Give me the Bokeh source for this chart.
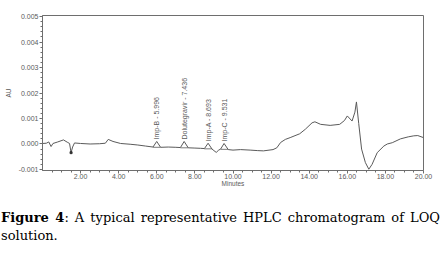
import math
from bokeh.plotting import figure
from bokeh.models import Range1d, FixedTicker, PrintfTickFormatter, Div, ColumnDataSource
from bokeh.layouts import column
from bokeh.core.properties import value
from bokeh.embed import file_html
from bokeh.resources import INLINE

# Chromatogram trace (minutes, AU)
time_min = [0.0, 0.2, 0.33, 0.45, 0.55, 0.8, 1.1, 1.3, 1.42, 1.5, 1.58, 1.68, 2.0, 2.5, 3.0, 3.3,
            3.45, 3.7, 4.1, 4.6, 5.0, 5.4, 5.8, 5.996, 6.2, 6.6, 7.0, 7.24, 7.436, 7.65, 8.0,
            8.3, 8.5, 8.693, 8.9, 9.0, 9.12, 9.25, 9.35, 9.531, 9.75, 10.0, 10.4, 10.9, 11.3,
            11.6, 12.1, 12.3, 12.5, 12.75, 13.0, 13.5, 13.8, 14.15, 14.3, 14.6, 15.1, 15.6,
            15.85, 16.0, 16.25, 16.4, 16.48, 16.6, 16.75, 16.95, 17.13, 17.3, 17.57, 17.92,
            18.1, 18.36, 18.79, 19.2, 19.49, 19.7, 20.0]
absorbance = [0.00002, 0.00003, 0.00008, -0.0001, 0.00002, 0.00008, 0.00016, 0.00007, 0.00002,
              -0.00034, -0.00012, 0.00004, 0.00002, 0.0, 0.00001, 0.00003, 0.00018, 0.0001,
              0.00002, -0.00001, -0.00004, -0.00008, -0.00012, 0.0001, -0.00013, -0.00012,
              -0.00013, -0.00014, 0.0001, -0.00015, -0.00016, -0.00017, -0.00018, 0.00003,
              -0.0002, -0.00026, -0.00033, -0.00024, -0.0002, 0.00002, -0.00022, -0.00024,
              -0.00022, -0.00024, -0.00026, -0.00027, -0.00022, -0.00015, 0.00006, 0.00018,
              0.00025, 0.0004, 0.00058, 0.00083, 0.00087, 0.00077, 0.00073, 0.00077, 0.00092,
              0.0011, 0.0009, 0.00125, 0.00165, 0.0008, -0.0002, -0.00073, -0.00099, -0.0008,
              -0.00034, -0.00008, 0.0, 0.00005, 0.0002, 0.00028, 0.00032, 0.00033, 0.00025]

# Integrated peaks
peak_names = ["Imp-B", "Dolutegravir", "Imp-A", "Imp-C"]
peak_rt = [5.996, 7.436, 8.693, 9.531]
peak_top = [0.0001, 0.0001, 0.00003, 0.00002]
peak_start = [5.8, 7.24, 8.5, 9.35]
peak_end = [6.2, 7.65, 8.9, 9.75]
peak_base = [-0.00013, -0.00015, -0.00019, -0.00021]

# baseline event marker
event_t = [1.5]
event_v = [-0.00034]

x_ticks = [2, 4, 6, 8, 10, 12, 14, 16, 18, 20]
y_ticks = [-0.001, 0.0, 0.001, 0.002, 0.003, 0.004, 0.005]

AX = "#6e6e6e"
TXT = "#5a5a5a"

p = figure(width=445, height=200, output_backend="svg", toolbar_location=None,
           x_range=Range1d(0, 20), y_range=Range1d(-0.00104, 0.00504),
           min_border_left=42, min_border_right=22, min_border_top=15, min_border_bottom=30)
p.grid.visible = False
p.outline_line_color = AX
p.outline_line_width = 1
p.background_fill_color = "white"
p.border_fill_color = "white"

p.line(time_min, absorbance, line_color="#5a5a5a", line_width=1)

# peak baselines
p.segment(x0=peak_start, y0=peak_base, x1=peak_end, y1=peak_base, line_color="#5a5a5a", line_width=0.8)
p.scatter(event_t, event_v, marker="square", size=2, fill_color="#333333", line_color="#333333")

labels = [f"{n} - {rt:.3f}" for n, rt in zip(peak_names, peak_rt)]
src = ColumnDataSource(dict(x=peak_rt, y=peak_top, t=labels))
p.text(x="x", y="y", text="t", source=src, angle=math.pi / 2, text_align="left",
       text_baseline="middle", y_offset=-2, text_font=value("Liberation Sans"),
       text_font_size="7px", text_color=TXT)

xminor = [i * 0.5 for i in range(1, 40) if (i * 0.5) % 2 != 0]
yminor = [round(-0.001 + i * 0.0002, 5) for i in range(31)]
p.xaxis.ticker = FixedTicker(ticks=x_ticks, minor_ticks=xminor)
p.yaxis.ticker = FixedTicker(ticks=y_ticks, minor_ticks=yminor)
p.xaxis.formatter = PrintfTickFormatter(format="%.2f")
p.yaxis.formatter = PrintfTickFormatter(format="%.3f")

for ax in (p.xaxis[0], p.yaxis[0]):
    ax.axis_line_color = AX
    ax.major_tick_line_color = AX
    ax.minor_tick_line_color = AX
    ax.major_tick_out = 3
    ax.major_tick_in = 0
    ax.minor_tick_out = 2
    ax.minor_tick_in = 0
    ax.major_label_text_font = "Liberation Sans"
    ax.major_label_text_font_size = "7px"
    ax.major_label_text_color = TXT
    ax.axis_label_text_font = "Liberation Sans"
    ax.axis_label_text_font_size = "6.5px"
    ax.axis_label_text_font_style = "normal"
    ax.axis_label_text_color = TXT

p.xaxis.axis_label = "Minutes"
p.yaxis.axis_label = "AU"
p.xaxis.major_label_standoff = 0
p.yaxis.major_label_standoff = 1
p.xaxis.axis_label_standoff = -2
p.yaxis.axis_label_standoff = 4

caption = Div(
    text=('<div style="margin-left:1px;width:439px;text-align:justify;text-align-last:justify;">'
          '<b>Figure 4</b>: A typical representative HPLC chromatogram of LOQ</div>'
          '<div style="margin-left:1px;width:439px;">solution.</div>'),
    width=445, height=44, margin=(9, 0, 0, 0),
    styles={"font-family": "DejaVu Serif", "font-size": "13px", "line-height": "18px",
            "color": "#000000"})

layout = column(p, caption, spacing=0)
open("out.html", "w").write(file_html(layout, INLINE))
